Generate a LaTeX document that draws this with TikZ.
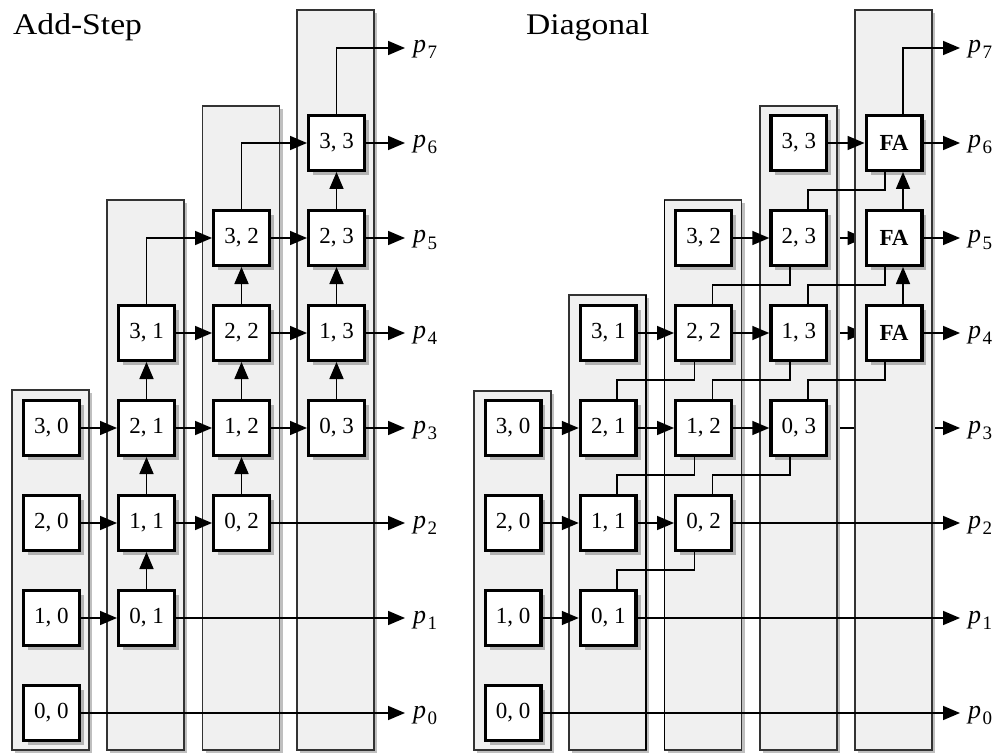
\documentclass[tikz,border=0pt]{standalone}
\usepackage{fontspec}
\setmainfont{Liberation Serif}
\usetikzlibrary{arrows.meta,shadows,calc}
\pgfdeclarelayer{hid}
\pgfdeclarelayer{cols}
\pgfsetlayers{hid,cols,main}
\tikzset{
  cell/.style={draw=black, line width=3.4pt, fill=white, minimum width=55.6pt, minimum height=54.6pt,
    inner sep=0pt, font=\fontsize{23}{23}\selectfont,
    drop shadow={shadow xshift=4.5pt, shadow yshift=-4.5pt, fill=gray!60, opacity=1}},
  colbox/.style={fill=gray!12, draw=gray!40!black, line width=1.2pt,
    drop shadow={shadow xshift=3pt, shadow yshift=-3pt, fill=gray!50, opacity=1}},
  conn/.style={draw=black, line width=1.6pt},
  arr/.style={conn, -{Triangle[length=17pt,width=14pt]}},
  plabel/.style={anchor=base west, inner sep=0pt, font=\fontsize{26}{26}\selectfont},
  ttl/.style={anchor=base west, inner sep=0pt, font=\fontsize{30}{30}\selectfont},
}
\newcommand{\plab}[1]{\textit{p}\hspace{1.5pt}\raisebox{-6pt}{\fontsize{19}{19}\selectfont #1}}
\begin{document}
\begin{tikzpicture}[x=1pt,y=-1pt]
\useasboundingbox (0,0) rectangle (1004,754);

% titles
\node[ttl] (tL) at (13,35) {\scalebox{1.12}[1]{Add-Step}};
\node[ttl] (tR) at (526,35) {\scalebox{1.12}[1]{Diagonal}};

% ---------- left panel boxes ----------
\foreach \a in {0,...,3}{
  \foreach \b in {0,...,3}{
    \node[cell] (L\a\b) at ({51.5+95*\b},{713-95*(\a+\b)}) {\a, \b};
  }
}
% ---------- right panel boxes ----------
\foreach \a in {0,...,3}{
  \foreach \b in {0,...,3}{
    \node[cell] (R\a\b) at ({513+95.25*\b},{713-95*(\a+\b)}) {\a, \b};
  }
}
\node[cell] (FA4) at (894,333) {\textbf{FA}};
\node[cell] (FA5) at (894,238) {\textbf{FA}};
\node[cell] (FA6) at (894,143) {\textbf{FA}};

% ---------- labels and arrow tips ----------
\foreach \k in {0,...,7}{
  \coordinate (Lt\k) at (405,{713-95*\k});
  \coordinate (Rt\k) at (960,{713-95*\k});
  \node[plabel] (Lp\k) at (413,{718-95*\k}) {\plab{\k}};
  \node[plabel] (Rp\k) at (968,{718-95*\k}) {\plab{\k}};
}

% ---------- columns ----------
\begin{pgfonlayer}{cols}
  \path[colbox] (12,390) rectangle (89,750);
  \path[colbox] (107,200) rectangle (184,750);
  \path[colbox] (202.5,106) rectangle (279.5,750);
  \path[colbox] (297,10) rectangle (374,750);
  \path[colbox] (474,391) rectangle (551,750);
  \path[colbox] (569,295) rectangle (646,750);
  \path[colbox] (664.5,200) rectangle (741.5,750);
  \path[colbox] (760,106) rectangle (837,750);
  \path[colbox] (855,10) rectangle (932,750);
  \draw[black, line width=1.7pt] (646,295) -- (646,750);
  \draw[black, line width=1.7pt] (664.5,200) -- (664.5,750);
\end{pgfonlayer}

% ---------- left connectors ----------
\foreach \a/\b/\c/\d in {1/0/0/1, 2/0/1/1, 3/0/2/1, 1/1/0/2, 2/1/1/2, 3/1/2/2, 1/2/0/3, 2/2/1/3, 3/2/2/3}{
  \draw[arr] (L\a\b) -- (L\c\d);
}
\foreach \a/\c/\b in {0/1/1, 1/2/1, 2/3/1, 0/1/2, 1/2/2, 2/3/2, 0/1/3, 1/2/3, 2/3/3}{
  \draw[arr] (L\a\b) -- (L\c\b);
}
\draw[arr] (L31.north) |- (L32.west);
\draw[arr] (L32.north) |- (L33.west);
\draw[arr] (L33.north) |- (Lt7);
\draw[arr] (L00) -- (Lt0);
\draw[arr] (L01) -- (Lt1);
\draw[arr] (L02) -- (Lt2);
\draw[arr] (L03) -- (Lt3);
\draw[arr] (L13) -- (Lt4);
\draw[arr] (L23) -- (Lt5);
\draw[arr] (L33) -- (Lt6);

% ---------- right connectors ----------
\begin{pgfonlayer}{hid}
  \draw[arr] (R13) -- (FA4);
  \draw[arr] (R23) -- (FA5);
  \draw[arr] (R03) -- (Rt3);
\end{pgfonlayer}
\foreach \a/\b/\c/\d in {1/0/0/1, 2/0/1/1, 3/0/2/1, 1/1/0/2, 2/1/1/2, 3/1/2/2, 1/2/0/3, 2/2/1/3, 3/2/2/3}{
  \draw[arr] (R\a\b) -- (R\c\d);
}
\draw[arr] (R33) -- (FA6);
% carry lines
\foreach \a/\b/\c in {0/2/1, 1/2/1, 2/2/1, 0/3/2, 1/3/2, 2/3/2}{
  \draw[conn] ([xshift=-9pt]R\a\b.south) -- ++(0,18) -| ([xshift=9pt]R\a\c.north);
}
\draw[conn] ([xshift=-9pt]FA4.south) -- ++(0,18) -| ([xshift=9pt]R03.north);
\draw[conn] ([xshift=-9pt]FA5.south) -- ++(0,18) -| ([xshift=9pt]R13.north);
\draw[conn] ([xshift=-9pt]FA6.south) -- ++(0,18) -| ([xshift=9pt]R23.north);
\draw[arr] ([xshift=9pt]FA4.north) -- ([xshift=9pt]FA5.south);
\draw[arr] ([xshift=9pt]FA5.north) -- ([xshift=9pt]FA6.south);
\draw[arr] ([xshift=9pt]FA6.north) |- (Rt7);
\draw[arr] (R00) -- (Rt0);
\draw[arr] (R01) -- (Rt1);
\draw[arr] (R02) -- (Rt2);
\draw[arr] (FA4) -- (Rt4);
\draw[arr] (FA5) -- (Rt5);
\draw[arr] (FA6) -- (Rt6);
\end{tikzpicture}
\end{document}
